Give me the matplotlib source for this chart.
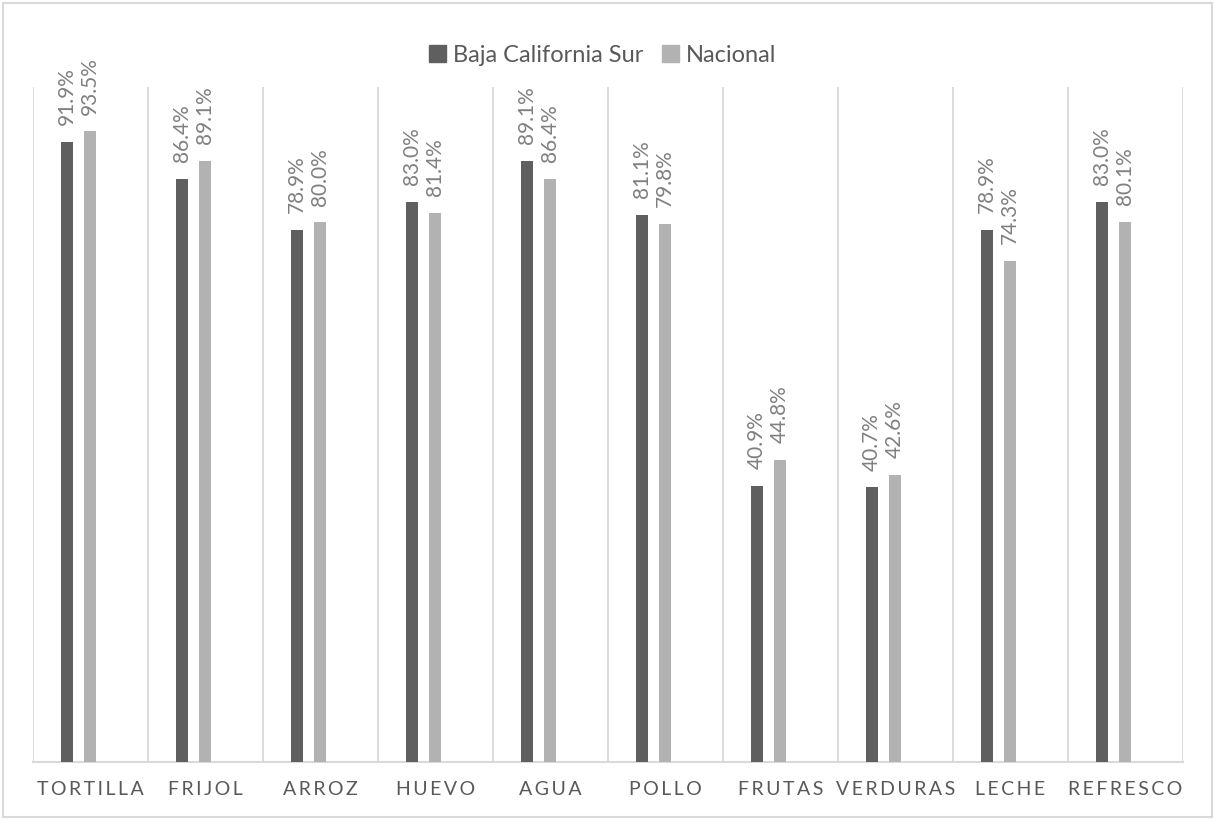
import matplotlib
matplotlib.use("Agg")
import matplotlib.pyplot as plt
from matplotlib.patches import Rectangle, Patch
import numpy as np

plt.rcParams['font.family'] = ['Lato', 'DejaVu Sans']

categorias = ["TORTILLA", "FRIJOL", "ARROZ", "HUEVO", "AGUA",
              "POLLO", "FRUTAS", "VERDURAS", "LECHE", "REFRESCO"]
bcs = [91.9, 86.4, 78.9, 83.0, 89.1, 81.1, 40.9, 40.7, 78.9, 83.0]
nacional = [93.5, 89.1, 80.0, 81.4, 86.4, 79.8, 44.8, 42.6, 74.3, 80.1]

OSCURO = "#5f5f5f"
CLARO = "#b2b2b2"
GRIS_LINEA = "#d9d9d9"

fig = plt.figure(figsize=(12.15, 8.19), dpi=100)
ax = fig.add_axes([33 / 1215, 1 - 762 / 819, 1150 / 1215, (762 - 87.4) / 819])

x = np.arange(len(categorias))
ancho = 0.105
b1 = ax.bar(x + 0.296, bcs, ancho, color=OSCURO, zorder=3)
b2 = ax.bar(x + 0.496, nacional, ancho, color=CLARO, zorder=3)

# etiquetas de valor, giradas como en Excel
for barras, vals in ((b1, bcs), (b2, nacional)):
    for r, v in zip(barras, vals):
        ax.annotate(f"{v:.1f}%", (r.get_x() + r.get_width() / 2, v),
                    xytext=(0, 12), textcoords="offset points",
                    rotation=90, ha="center", va="bottom",
                    fontsize=15, color="#808080")

ax.set_xlim(0, len(categorias))
ax.set_ylim(0, 100)
for i in range(len(categorias) + 1):
    ax.axvline(i, color=GRIS_LINEA, lw=1.3, zorder=1)

ax.set_xticks(x + 0.5)
ax.set_xticklabels(["\u2009".join(c) for c in categorias], fontsize=14, color="#595959")
ax.tick_params(axis="x", length=0, pad=14)
ax.set_yticks([])
for s in ("top", "right", "left"):
    ax.spines[s].set_visible(False)
ax.spines["bottom"].set_color(GRIS_LINEA)
ax.spines["bottom"].set_linewidth(1.5)

handles = [Patch(color=OSCURO, label="Baja California Sur"),
           Patch(color=CLARO, label="Nacional")]
fig.legend(handles=handles, loc="center", bbox_to_anchor=(0.496, 1 - 55 / 819),
           ncol=2, frameon=False, fontsize=17, handlelength=0.7, handleheight=0.7,
           handletextpad=0.3, columnspacing=0.8, labelcolor="#595959")

fig.patches.append(Rectangle((3 / 1215, 2 / 819), 1209 / 1215, 814 / 819,
                             transform=fig.transFigure, fill=False,
                             edgecolor=GRIS_LINEA, lw=1.5))

fig.savefig("out.png", dpi=100)
